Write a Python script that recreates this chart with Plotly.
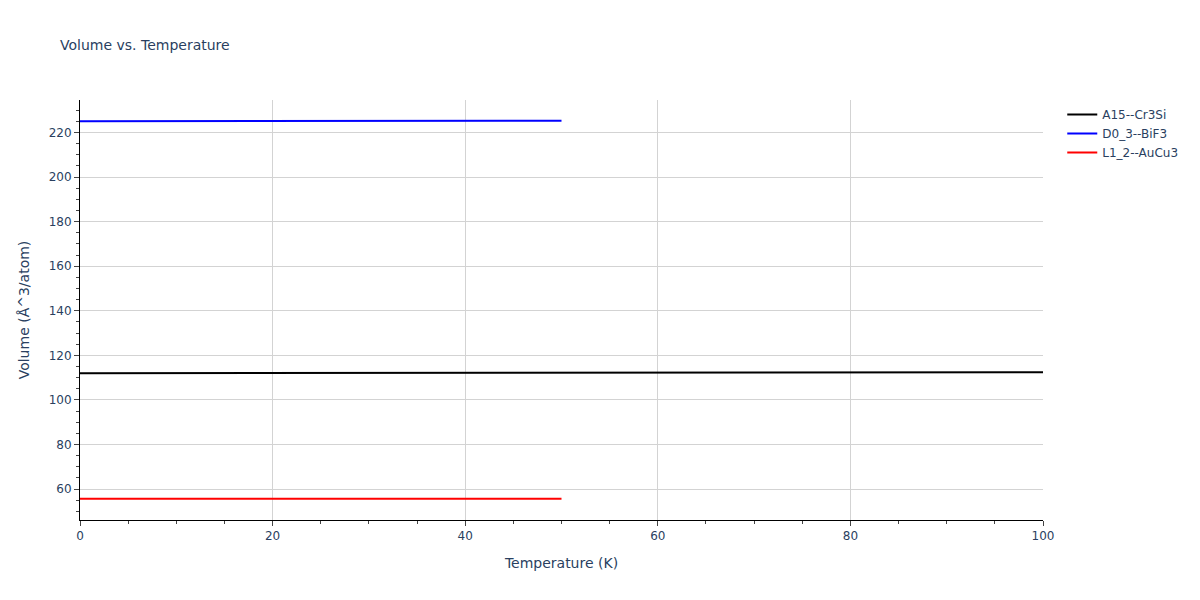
import plotly.graph_objects as go

temps_a15 = [0, 10, 20, 30, 40, 50, 60, 70, 80, 90, 100]
vol_a15 = [112.0, 112.02, 112.05, 112.08, 112.1, 112.14, 112.18, 112.22, 112.27, 112.32, 112.38]

temps_d03 = [0, 10, 20, 30, 40, 50]
vol_d03 = [225.1, 225.12, 225.15, 225.2, 225.26, 225.33]

temps_l12 = [0, 10, 20, 30, 40, 50]
vol_l12 = [55.6, 55.61, 55.62, 55.64, 55.66, 55.69]

fig = go.Figure()
fig.add_trace(go.Scatter(x=temps_a15, y=vol_a15, mode="lines", name="A15--Cr3Si",
                         line=dict(color="black", width=2)))
fig.add_trace(go.Scatter(x=temps_d03, y=vol_d03, mode="lines", name="D0_3--BiF3",
                         line=dict(color="blue", width=2)))
fig.add_trace(go.Scatter(x=temps_l12, y=vol_l12, mode="lines", name="L1_2--AuCu3",
                         line=dict(color="red", width=2)))

minor = dict(ticks="outside", ticklen=3, tickcolor="#444", dtick=5, showgrid=False)
axis_common = dict(showline=True, linecolor="black", linewidth=1,
                   ticks="outside", tickcolor="#444", ticklen=5,
                   showgrid=True, gridcolor="lightgray", zeroline=False,
                   minor=minor)

fig.update_layout(
    template="plotly_white",
    width=1200, height=600,
    margin=dict(l=80, r=157, t=100, b=80),
    font=dict(family="Verdana, DejaVu Sans, sans-serif", size=12, color="#2a3f5f"),
    title=dict(text="Volume vs. Temperature", font=dict(size=14)),
    xaxis=dict(title="Temperature (K)", range=[0, 100], dtick=20, **axis_common),
    yaxis=dict(title="Volume (Å^3/atom)", range=[46.1, 234.6], dtick=20, **axis_common),
    legend=dict(x=1.02, y=1, xanchor="left", yanchor="top"),
    plot_bgcolor="white", paper_bgcolor="white",
)

fig.write_html("out.html", config={"displayModeBar": False},
               post_script="document.body.style.margin='0';")
